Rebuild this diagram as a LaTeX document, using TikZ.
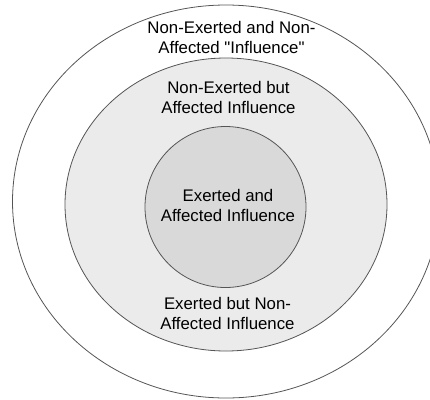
\documentclass[tikz,border=0pt]{standalone}
\usepackage{fontspec}
\setmainfont{Liberation Sans}[Ligatures=TeXOff]
\definecolor{linegray}{HTML}{555555}
\definecolor{midfill}{HTML}{EBEBEB}
\definecolor{innerfill}{HTML}{D9D9D9}
\begin{document}
\begin{tikzpicture}[x=1pt,y=-1pt,
  ring/.style={draw=linegray,line width=0.8pt},
  lbl/.style={align=center,font=\fontsize{16.8}{20}\selectfont,text=black,inner sep=0pt}]
\useasboundingbox (0,0) rectangle (430,399);
\clip (0,0) rectangle (430,399);
\draw[ring,fill=white] (226,201.5) ellipse [x radius=213.5,y radius=196.5];
\coordinate (outer) at (226,201.5);
\draw[ring,fill=midfill] (226,204.5) ellipse [x radius=161,y radius=146.5];
\coordinate (middle) at (226,204.5);
\draw[ring,fill=innerfill] (225.5,207) circle [radius=80.5];
\coordinate (inner) at (225.5,207);
\node[lbl] (t1) at (231.5,37.5) {Non-Exerted and Non-\\Affected "Influence"};
\node[lbl] (t2) at (228.5,97.5) {Non-Exerted but\\Affected Influence};
\node[lbl] (t3) at (228,205) {Exerted and\\Affected Influence};
\node[lbl] (t4) at (227.5,313.5) {Exerted but Non-\\Affected Influence};
\end{tikzpicture}
\end{document}
